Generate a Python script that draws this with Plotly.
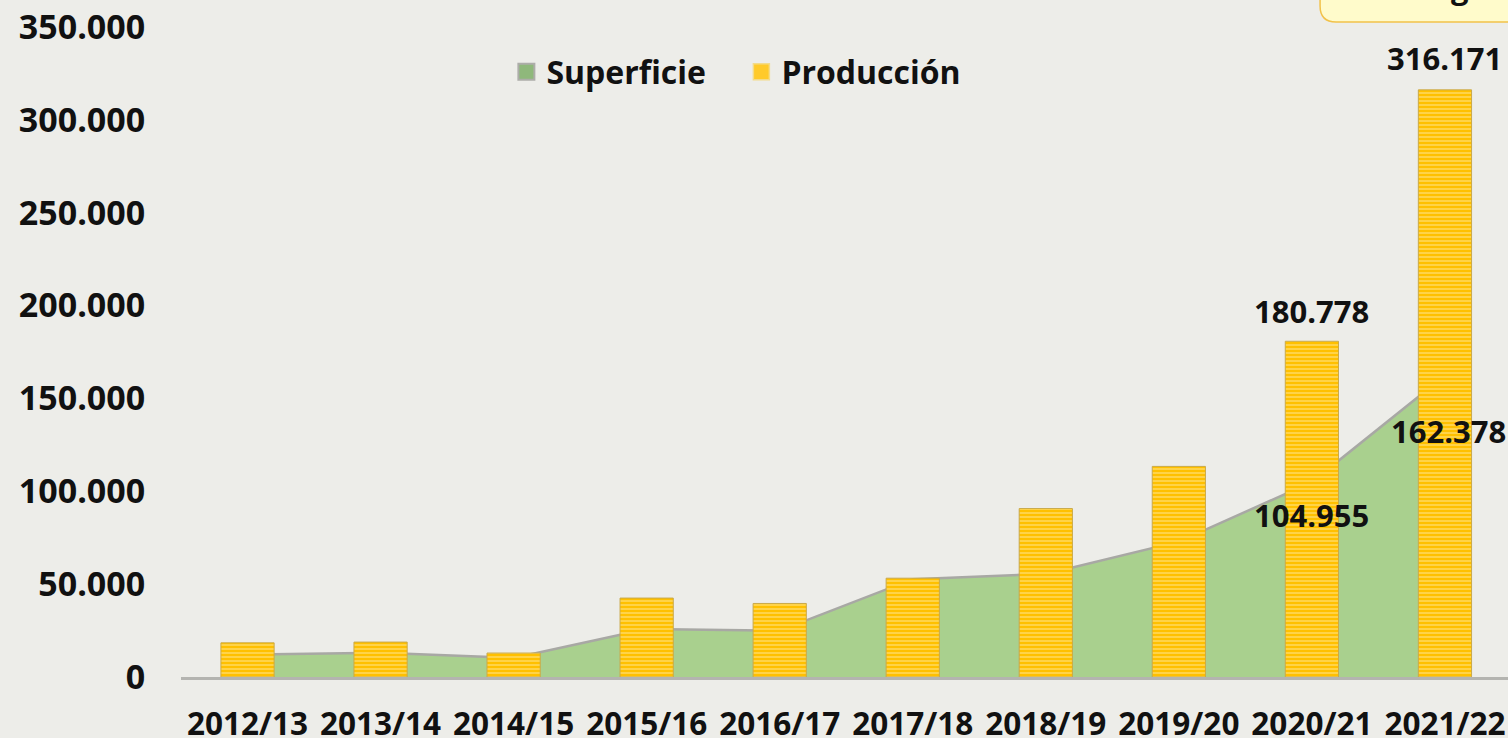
import plotly.graph_objects as go

campaigns = ["2012/13", "2013/14", "2014/15", "2015/16", "2016/17",
             "2017/18", "2018/19", "2019/20", "2020/21", "2021/22"]
superficie = [12000, 13000, 10300, 25800, 25000, 52700, 55500, 72900, 104955, 162378]
produccion = [18400, 18800, 12900, 42500, 39600, 53200, 90700, 113400, 180778, 316171]
y_ticks = [0, 50000, 100000, 150000, 200000, 250000, 300000, 350000]
y_tick_text = ["0", "50.000", "100.000", "150.000", "200.000", "250.000", "300.000", "350.000"]
labelled_bars = [8, 9]
labelled_area = [8, 9]

W, H = 1508, 738
ML, MR, MT, MB = 180.5, 0, 27, 61
BG = "#EDEDE9"
FONT = "Open Sans"
GREEN = "#A9D08E"
YELLOW = "#FFC000"


def px(x):
    return (x - ML) / (W - ML - MR)


def py(y):
    return (H - MB - y) / (H - MT - MB)


def fmt(v):
    return f"{v:,}".replace(",", ".")


xi = list(range(len(campaigns)))

fig = go.Figure()
fig.add_trace(go.Scatter(
    x=xi, y=superficie, name="Superficie", mode="lines",
    fill="tozeroy", fillcolor=GREEN,
    line=dict(color="#A8A8A4", width=2.5),
    hoverinfo="skip", showlegend=False,
))
fig.add_trace(go.Bar(
    x=xi, y=produccion, name="Producción", yaxis="y2", width=0.4,
    marker=dict(
        color=YELLOW,
        line=dict(color="#C9A94A", width=1),
        pattern=dict(shape="-", fgcolor="#FFF0B4", bgcolor=YELLOW,
                     size=4, solidity=0.4, fillmode="overlay"),
    ),
    hoverinfo="skip", showlegend=False,
))
# legend entries (square keys as in the original)
fig.add_trace(go.Scatter(
    x=[None], y=[None], name="Superficie", mode="markers",
    marker=dict(symbol="square", size=21, color="#8FB87B",
                line=dict(color="#ADADA9", width=2)),
))
fig.add_trace(go.Scatter(
    x=[None], y=[None], name="Producción", mode="markers",
    marker=dict(symbol="square", size=21, color="#FFCA2A",
                line=dict(color="#F3DB8A", width=1.5)),
))

LBL = dict(family=FONT, size=31, color="#111111", weight="bold")
annotations = []
bar_shift = {8: 7, 9: 9}
for i in labelled_bars:
    annotations.append(dict(
        x=xi[i], y=produccion[i], xref="x", yref="y", text=fmt(produccion[i]),
        showarrow=False, yanchor="bottom", yshift=bar_shift[i], font=LBL,
    ))
area_shift = {8: (0, -33), 9: (4, -56)}
for i in labelled_area:
    dx, dy = area_shift[i]
    annotations.append(dict(
        x=xi[i], y=superficie[i], xref="x", yref="y", text=fmt(superficie[i]),
        showarrow=False, yanchor="middle", xshift=dx, yshift=dy, font=LBL,
    ))
# partly visible note box at the top right
annotations.append(dict(
    x=px(1432), y=py(10), xref="paper", yref="paper", text="1.946 kg/ha",
    showarrow=False, yanchor="bottom", xanchor="center", font=LBL,
))

x0, x1, y0, y1 = px(1320), px(1530), py(22), py(-30)
rx = 16 / (W - ML - MR)
ry = 16 / (H - MT - MB)
path = (f"M {x0},{y1} L {x0},{y0 + ry} Q {x0},{y0} {x0 + rx},{y0} "
        f"L {x1},{y0} L {x1},{y1} Z")
shapes = [dict(type="path", xref="paper", yref="paper", path=path,
               fillcolor="#FFFBCB", line=dict(color="#F2C24A", width=1.5),
               layer="below")]

fig.update_layout(
    width=W, height=H,
    margin=dict(l=ML, r=MR, t=MT, b=MB, pad=0, autoexpand=False),
    paper_bgcolor=BG, plot_bgcolor=BG,
    font=dict(family=FONT, color="#111111"),
    showlegend=True,
    legend=dict(orientation="h", x=px(506), y=py(72), xanchor="left", yanchor="middle",
                bgcolor="rgba(0,0,0,0)", traceorder="normal",
                font=dict(family=FONT, size=32, color="#111111", weight="bold"),
                itemwidth=30, entrywidth=190, entrywidthmode="pixels"),
    xaxis=dict(range=[-0.5, 9.474], tickmode="array", tickvals=xi, ticktext=campaigns,
               showgrid=False, zeroline=False, showline=True, linecolor="#B4B4B0",
               linewidth=2.5, ticks="outside", ticklen=17, tickcolor="rgba(0,0,0,0)",
               tickfont=dict(family=FONT, size=31.5, color="#111111", weight="bold"),
               automargin=False, fixedrange=True),
    yaxis=dict(range=[0, 350000], tickmode="array", tickvals=y_ticks, ticktext=y_tick_text,
               showgrid=False, zeroline=False, showline=False,
               ticks="outside", ticklen=28, tickcolor="rgba(0,0,0,0)",
               tickfont=dict(family=FONT, size=34, color="#111111", weight="bold"),
               automargin=False, fixedrange=True),
    yaxis2=dict(range=[0, 350000], overlaying="y", visible=False, fixedrange=True,
                automargin=False),
    annotations=annotations,
    shapes=shapes,
    bargap=0.6,
)

fig.write_html("out.html", config={"displayModeBar": False},
               post_script="document.body.style.margin='0';document.body.style.background='" + BG + "';")
